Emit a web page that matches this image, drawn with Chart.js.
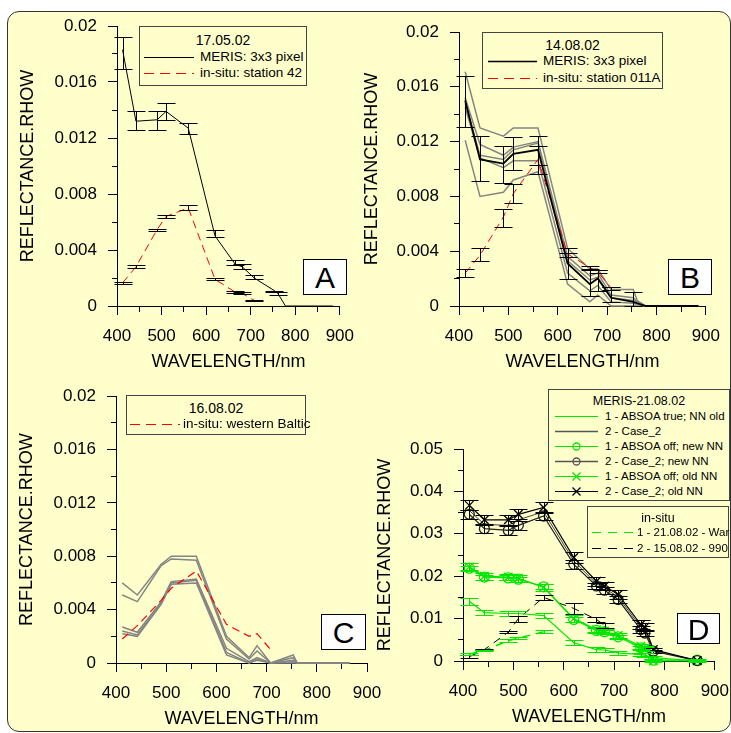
<!DOCTYPE html>
<html>
<head>
<meta charset="utf-8">
<script src="https://cdn.jsdelivr.net/npm/chart.js@4.4.1/dist/chart.umd.min.js"></script>
<style>
body { margin:0; background:#fff; width:731px; height:733px; overflow:hidden; position:relative; font-family:'Liberation Sans', Arial, sans-serif; }
#frame { position:absolute; left:7px; top:11px; width:722px; height:719px; background:#ffffcc; border:1px solid #333; border-radius:12px; }
canvas { position:absolute; }
.legend { position:absolute; background:#ffffcc; border:1px solid #444; color:#000; box-sizing:border-box; }
.legend div { position:absolute; white-space:nowrap; }
.letter { position:absolute; background:#fff; border:1px solid #000; text-align:center; font-size:30px; box-sizing:border-box; }
</style>
</head>
<body>
<div id="frame"></div>
<canvas id="cA" width="365" height="380" style="left:0px;top:0px"></canvas>
<canvas id="cB" width="376" height="380" style="left:355px;top:0px"></canvas>
<canvas id="cC" width="400" height="358" style="left:0px;top:375px"></canvas>
<canvas id="cD" width="380" height="353" style="left:360px;top:380px"></canvas>
<div class="letter" style="left:303px;top:259px;width:44px;height:36px;line-height:36px">A</div>
<div class="letter" style="left:668px;top:259px;width:44px;height:36px;line-height:36px">B</div>
<div class="letter" style="left:321px;top:614px;width:45px;height:36px;line-height:36px">C</div>
<div class="letter" style="left:677px;top:613px;width:43px;height:31px;line-height:31px">D</div>
<script>
// wavelengths of the MERIS bands (nm)
const bands = [412.5, 442.5, 490, 510, 560, 620, 665, 681, 708, 753, 761, 778, 865, 885];

const xTicks = [400, 500, 600, 700, 800, 900];
const yTicksABC = [0, 0.004, 0.008, 0.012, 0.016, 0.02];
const yTicksD = [0, 0.01, 0.02, 0.03, 0.04, 0.05];

// A - 17.05.02
const aMeris   = [0.0183, 0.0132, 0.0133, 0.0139, 0.0127, 0.0050, 0.0030, 0.0028, 0.0020, 0.0011, 0.0009, 0, 0, 0];
const aMerisLo = [0.0169, 0.0126, 0.0126, 0.0133, 0.0123, 0.0049, 0.0029, 0.00265, 0.0019, 0.0010, 0.0008, null, null, null];
const aMerisHi = [0.0192, 0.0139, 0.0139, 0.0145, 0.0131, 0.0054, 0.0033, 0.0030, 0.0022, 0.0011, 0.0010, null, null, null];
const aInsitu   = [0.00165, 0.0028, 0.00546, 0.0064, 0.0070, 0.0019, 0.0010, 0.0009, 0.0004];
const aInsituLo = [0.00155, 0.0027, 0.00534, 0.0063, 0.00684, 0.00184, 0.00093, 0.00083, 0.00038];
const aInsituHi = [0.00172, 0.0029, 0.00553, 0.00653, 0.00718, 0.00198, 0.00107, 0.00098, 0.00045];

// B - 14.08.02
const bPix1 = [0.0171, 0.0130, 0.0124, 0.0130, 0.0130, 0.0042, 0.0027, 0.0027, 0.0012, 0.0012, 0.0004, 0, 0, 0];
const bPix2 = [0.0152, 0.0118, 0.0110, 0.0116, 0.0120, 0.0036, 0.0022, 0.0024, 0.0008, 0.0006, 0.0003, 0, 0, 0];
const bPix3 = [0.0148, 0.0110, 0.0107, 0.0114, 0.0119, 0.0033, 0.0019, 0.0021, 0.0006, 0.0004, 0.0002, 0, 0, 0];
const bPix4 = [0.0145, 0.0108, 0.0101, 0.0106, 0.0106, 0.0024, 0.0011, 0.0015, 0.0003, 0.0002, 0.0001, 0, 0, 0];
const bPix5 = [0.0121, 0.0080, 0.0083, 0.0092, 0.0098, 0.0016, 0.0003, 0.0008, 0, 0, 0, 0, 0, 0];
const bMeris   = [0.0150, 0.0107, 0.0104, 0.0111, 0.0114, 0.0031, 0.0016, 0.0020, 0.0006, 0.0003, 0.0002, 0, 0, 0];
const bMerisLo = [0.0131, 0.0091, 0.0090, 0.0099, 0.0096, 0.0020, 0.0007, 0.0011, 0.0003, 0.0000, null, null, null, null];
const bMerisHi = [0.0168, 0.0124, 0.0117, 0.0123, 0.0124, 0.0042, 0.0026, 0.0026, 0.0014, 0.0010, null, null, null, null];
const bInsitu   = [0.0024, 0.0037, 0.0065, 0.0082, 0.0107, 0.0038, 0.0028, 0.0025, 0.0013];
const bInsituLo = [0.0021, 0.0033, 0.0058, 0.0075, 0.0103, 0.0036, 0.0027, 0.0024, 0.0012];
const bInsituHi = [0.0027, 0.0042, 0.0071, 0.0089, 0.0117, 0.0039, 0.0029, 0.0026, 0.0014];

// C - 16.08.02
const cPix1 = [0.0060, 0.0051, 0.0074, 0.0080, 0.0080, 0.0020, 0.0004, 0.0013, 0, 0.0006, 0, 0, 0];
const cPix2 = [0.0051, 0.0046, 0.0073, 0.0078, 0.0077, 0.0018, 0.0003, 0.0009, 0, 0.0004, 0, 0, 0];
const cPix3 = [0.0027, 0.0023, 0.0046, 0.0061, 0.0063, 0.0011, 0.0001, 0.0004, 0, 0.0002, 0, 0, 0];
const cPix4 = [0.0024, 0.0021, 0.0045, 0.0060, 0.0062, 0.0008, 0, 0.0003, 0, 0.0001, 0, 0, 0];
const cPix5 = [0.0022, 0.0020, 0.0044, 0.0059, 0.0060, 0.0006, 0, 0.0002, 0, 0, 0, 0, 0];
const cInsitu = [0.0018, 0.0028, 0.0047, 0.0056, 0.0069, 0.0029, 0.0020, 0.0022, 0.0010];

// D - MERIS 21.08.02 and in-situ
const dTrue1    = [0.0141, 0.0114, 0.0112, 0.0112, 0.0107, 0.0043, 0.0027, 0.0026, 0.0019, 0.0015, 0.0014, 0.0008, 0];
const dTrue1Err = [0.0008, 0.0006, 0.0006, 0.0006, 0.0006, 0.0006, 0.0005, 0.0005, 0.0005, 0.0004, 0.0004, 0.0003, 0];
const dCase2    = [0.0355, 0.0322, 0.0320, 0.0333, 0.0352, 0.0236, 0.0182, 0.0172, 0.0151, 0.0080, 0.0073, 0.0025, 0.0001];
const dNew1     = [0.0219, 0.0198, 0.0196, 0.0193, 0.0175, 0.0098, 0.0072, 0.0069, 0.0057, 0.0031, 0.0028, 0.0002, 0.0002];
const dNew2     = [0.0346, 0.0312, 0.0308, 0.0320, 0.0342, 0.0228, 0.0177, 0.0167, 0.0145, 0.0074, 0.0066, 0.0023, 0.0001];
const dOld1     = [0.0222, 0.0200, 0.0198, 0.0195, 0.0174, 0.0100, 0.0074, 0.0070, 0.0060, 0.0035, 0.0030, 0, 0];
const dOld2     = [0.0367, 0.0333, 0.0333, 0.0346, 0.0362, 0.0244, 0.0188, 0.0177, 0.0157, 0.0086, 0.0080, 0.0027, 0.0001];
const dNew1Err  = [0.0006, 0.0006, 0.0006, 0.0006, 0.0006, 0.0006, 0.0005, 0.0005, 0.0005, 0.0005, 0.0005, 0.0003, 0.0003];
const dNew2Err  = [0.0010, 0.0010, 0.0010, 0.0010, 0.0010, 0.0010, 0.0008, 0.0008, 0.0008, 0.0008, 0.0008, 0.0004, 0];
const dOld1Err  = [0.0008, 0.0008, 0.0008, 0.0008, 0.0008, 0.0008, 0.0006, 0.0006, 0.0006, 0.0006, 0.0006, 0.0003, 0.0003];
const dOld2Err  = [0.0012, 0.0012, 0.0012, 0.0012, 0.0012, 0.0012, 0.0010, 0.0010, 0.0010, 0.0010, 0.0010, 0.0004, 0];
const dInsitu1    = [0.0016, 0.0025, 0.0048, 0.0054, 0.0069];
const dInsitu1Err = [0.0003, 0.0002, 0.0003, 0.0003, 0.0003];
const dInsitu2    = [0.0010, 0.0027, 0.0068, 0.0100, 0.0150, 0.0124, 0.0098, 0.0084];
const dInsitu2Err = [0.0003, 0.0002, 0.0003, 0.0007, 0.0006, 0.0012, 0.0005, 0.0006];

const fontFam = "'Liberation Sans', Arial, sans-serif";
const green = '#00e600';
const grey = '#858585';

function pts(ys) {
  let out = [];
  for (let i = 0; i < ys.length; i++) out.push({ x: bands[i], y: ys[i] });
  return out;
}

function isMajor(v, major) {
  for (let i = 0; i < major.length; i++) if (Math.abs(v - major[i]) < 1e-9) return true;
  return false;
}

function buildAxis(major, isY, boxSize, titlePad) {
  return {
    type: 'linear',
    min: major[0],
    max: major[major.length - 1],
    afterBuildTicks: function (s) {
      let t = [];
      for (let i = 0; i < major.length; i++) {
        t.push({ value: major[i] });
        if (i < major.length - 1) t.push({ value: (major[i] + major[i + 1]) / 2 });
      }
      s.ticks = t;
    },
    afterFit: function (s) {
      if (isY) s.width = boxSize; else s.height = boxSize;
    },
    grid: {
      drawOnChartArea: false,
      tickLength: 9,
      tickColor: '#000',
      tickWidth: 1,
      tickBorderDash: function (c) {
        if (c.tick && isMajor(c.tick.value, major)) return [];
        return isY ? [5, 4] : [5, 10];
      },
      tickBorderDashOffset: function (c) {
        if (c.tick && isMajor(c.tick.value, major)) return 0;
        return isY ? 5 : 0;
      }
    },
    border: { display: true, color: '#000', width: 1 },
    ticks: {
      color: '#000',
      font: { family: fontFam, size: 17 },
      padding: 11,
      autoSkip: false,
      maxRotation: 0,
      callback: function (v) {
        return isMajor(v, major) ? String(Math.round(v * 10000) / 10000) : '';
      }
    },
    title: {
      display: true,
      text: isY ? 'REFLECTANCE.RHOW' : 'WAVELENGTH/nm',
      color: '#000',
      font: { family: fontFam, size: 18 },
      padding: isY ? { top: titlePad, bottom: 0 } : { top: 0, bottom: titlePad }
    }
  };
}

// vertical error bars with caps, drawn with the chart's own scales
const errorBars = {
  id: 'errorBars',
  afterDatasetsDraw(chart) {
    const ctx = chart.ctx;
    const xs = chart.scales.x, ys = chart.scales.y;
    chart.data.datasets.forEach(function (ds) {
      if (!ds.errLo && !ds.err) return;
      ctx.save();
      ctx.strokeStyle = ds.errColor || '#000';
      ctx.lineWidth = 1;
      ds.data.forEach(function (p, j) {
        let lo, hi;
        if (ds.err) { lo = p.y - ds.err[j]; hi = p.y + ds.err[j]; }
        else { lo = ds.errLo[j]; hi = ds.errHi[j]; }
        if (lo == null || hi == null) return;
        const x = Math.round(xs.getPixelForValue(p.x)) + 0.5;
        const y1 = Math.round(ys.getPixelForValue(lo)) + 0.5;
        const y2 = Math.round(ys.getPixelForValue(hi)) + 0.5;
        ctx.beginPath();
        ctx.moveTo(x, y1); ctx.lineTo(x, y2);
        ctx.moveTo(x - 9, y1); ctx.lineTo(x + 9, y1);
        ctx.moveTo(x - 9, y2); ctx.lineTo(x + 9, y2);
        ctx.stroke();
      });
      ctx.restore();
    });
  }
};

function line(data, color, width, extra) {
  let d = {
    data: data, borderColor: color, backgroundColor: color, borderWidth: width,
    pointRadius: 0, tension: 0, fill: false, clip: false
  };
  for (let k in extra) d[k] = extra[k];
  return d;
}

function makeChart(id, datasets, yMajor, pad, yW, xH, yTitlePad, xTitlePad) {
  new Chart(document.getElementById(id), {
    type: 'line',
    data: { datasets: datasets },
    options: {
      responsive: false,
      animation: false,
      layout: { padding: pad },
      plugins: { legend: { display: false }, tooltip: { enabled: false } },
      scales: {
        x: buildAxis(xTicks, false, xH, xTitlePad),
        y: buildAxis(yMajor, true, yW, yTitlePad)
      }
    },
    plugins: [errorBars]
  });
}

// A
makeChart('cA', [
  line(pts(aMeris), '#000', 1, { errLo: aMerisLo, errHi: aMerisHi }),
  line(pts(aInsitu), '#ff0000', 1, { borderDash: [8, 5], errLo: aInsituLo, errHi: aInsituHi })
], yTicksABC, { left: 0, top: 26, right: 19, bottom: 0 }, 117, 74, 17.2, 7.2);

// B
makeChart('cB', [
  line(pts(bMeris), '#000', 1.8, { errLo: bMerisLo, errHi: bMerisHi }),
  line(pts(bInsitu), '#ff0000', 1, { borderDash: [8, 5], errLo: bInsituLo, errHi: bInsituHi }),
  line(pts(bPix1), grey, 1.5),
  line(pts(bPix2), grey, 1.5),
  line(pts(bPix3), grey, 1.5),
  line(pts(bPix4), grey, 1.5),
  line(pts(bPix5), grey, 1.5)
], yTicksABC, { left: 0, top: 32, right: 17, bottom: 0 }, 104, 74, 6.2, 7.2);

// C
makeChart('cC', [
  line(pts(cInsitu), '#ff0000', 1.2, { borderDash: [8, 5] }),
  line(pts(cPix1), grey, 1.5),
  line(pts(cPix2), grey, 1.5),
  line(pts(cPix3), grey, 1.5),
  line(pts(cPix4), grey, 1.5),
  line(pts(cPix5), grey, 1.5)
], yTicksABC, { left: 0, top: 19, right: 33, bottom: 0 }, 116, 70, 16.2, 3.2);

// D
const crossPts = { pointStyle: 'crossRot', pointRadius: 6, pointBorderWidth: 1.3 };
const circPts = { pointStyle: 'circle', pointRadius: 5, pointBorderWidth: 1.3, pointBackgroundColor: 'rgba(0,0,0,0)' };
makeChart('cD', [
  line(pts(dOld2), '#000', 1.2, Object.assign({ err: dOld2Err, errColor: '#000' }, crossPts)),
  line(pts(dNew2), '#222', 1.2, Object.assign({ err: dNew2Err, errColor: '#000' }, circPts)),
  line(pts(dCase2), '#444', 1, {}),
  line(pts(dOld1), green, 1.2, Object.assign({ err: dOld1Err, errColor: green }, crossPts)),
  line(pts(dNew1), green, 1.2, Object.assign({ err: dNew1Err, errColor: green }, circPts)),
  line(pts(dTrue1), green, 1.2, { err: dTrue1Err, errColor: green }),
  line(pts(dInsitu2), '#000', 1, { borderDash: [8, 6], err: dInsitu2Err, errColor: '#000' }),
  line(pts(dInsitu1), green, 1.5, { borderDash: [8, 6], err: dInsitu1Err, errColor: green })
], yTicksD, { left: 0, top: 69, right: 23, bottom: 0 }, 103, 72, 14.2, 5.2);

// legends (page coordinates)
function addLegend(box) {
  const el = document.createElement('div');
  el.className = 'legend';
  el.style.left = box.left + 'px';
  el.style.top = box.top + 'px';
  el.style.width = box.w + 'px';
  el.style.height = box.h + 'px';
  el.style.fontSize = box.fs + 'px';
  const ox = box.left + 1, oy = box.top + 1;
  let svg = '<svg width="' + box.w + '" height="' + box.h + '" style="position:absolute;left:0;top:0">';
  let html = '<div style="left:0;right:0;text-align:center;top:' + (box.titleY - oy - 9) + 'px;line-height:18px;font-size:' + box.tfs + 'px">' + box.title + '</div>';
  box.rows.forEach(function (r) {
    const y = r.y - oy + 0.5;
    svg += '<line x1="' + (r.x1 - ox) + '" y1="' + y + '" x2="' + (r.x2 - ox) + '" y2="' + y + '" stroke="' + r.color + '" stroke-width="' + (r.w || 1) + '"' + (r.dash ? ' stroke-dasharray="' + r.dash + '"' : '') + '/>';
    const mx = (r.x1 + r.x2) / 2 - ox;
    if (r.marker === 'o') svg += '<circle cx="' + mx + '" cy="' + y + '" r="3.5" fill="none" stroke="' + r.color + '" stroke-width="1.3"/>';
    if (r.marker === 'x') svg += '<path d="M' + (mx - 4) + ' ' + (y - 4) + 'L' + (mx + 4) + ' ' + (y + 4) + 'M' + (mx - 4) + ' ' + (y + 4) + 'L' + (mx + 4) + ' ' + (y - 4) + '" stroke="' + r.color + '" stroke-width="1.3"/>';
    html += '<div style="left:' + (r.tx - ox) + 'px;top:' + (r.y - oy - 9) + 'px;line-height:18px">' + r.text + '</div>';
  });
  svg += '</svg>';
  el.innerHTML = svg + html;
  document.body.appendChild(el);
}

addLegend({ left: 139, top: 26, w: 168, h: 60, fs: 13.5, tfs: 14, title: '17.05.02', titleY: 40, rows: [
  { y: 57, x1: 144, x2: 194, tx: 200, color: '#000', text: 'MERIS: 3x3 pixel' },
  { y: 73, x1: 144, x2: 194, tx: 200, color: '#ff0000', dash: '10,6', text: 'in-situ: station 42' }
] });
addLegend({ left: 482, top: 32, w: 181, h: 57, fs: 13.5, tfs: 14, title: '14.08.02', titleY: 45, rows: [
  { y: 61, x1: 488, x2: 537, tx: 543, color: '#000', w: 1.5, text: 'MERIS: 3x3 pixel' },
  { y: 78, x1: 488, x2: 537, tx: 543, color: '#ff0000', dash: '10,6', text: 'in-situ: station 011A' }
] });
addLegend({ left: 126, top: 395, w: 180, h: 40, fs: 13.5, tfs: 14, title: '16.08.02', titleY: 408, rows: [
  { y: 424, x1: 130, x2: 180, tx: 183, color: '#ff0000', dash: '10,6', text: 'in-situ: western Baltic' }
] });
addLegend({ left: 548, top: 389, w: 182, h: 112, fs: 11.5, tfs: 12.5, title: 'MERIS-21.08.02', titleY: 401, rows: [
  { y: 416, x1: 555, x2: 598, tx: 605, color: green, text: '1 - ABSOA true; NN old' },
  { y: 431, x1: 555, x2: 598, tx: 605, color: '#555', w: 1.3, text: '2 - Case_2' },
  { y: 446, x1: 555, x2: 598, tx: 605, color: green, marker: 'o', text: '1 - ABSOA off; new NN' },
  { y: 461, x1: 555, x2: 598, tx: 605, color: '#555', w: 1.3, marker: 'o', text: '2 - Case_2; new NN' },
  { y: 476, x1: 555, x2: 598, tx: 605, color: green, marker: 'x', text: '1 - ABSOA off; old NN' },
  { y: 491, x1: 555, x2: 598, tx: 605, color: '#000', marker: 'x', text: '2 - Case_2; old NN' }
] });
addLegend({ left: 587, top: 506, w: 142, h: 52, fs: 11.5, tfs: 12.5, title: 'in-situ', titleY: 518, rows: [
  { y: 532, x1: 592, x2: 635, tx: 637, color: green, dash: '9,7', text: '1 - 21.08.02 - War' },
  { y: 548, x1: 592, x2: 635, tx: 637, color: '#000', dash: '9,7', text: '2 - 15.08.02 - 990' }
] });
</script>
</body>
</html>
